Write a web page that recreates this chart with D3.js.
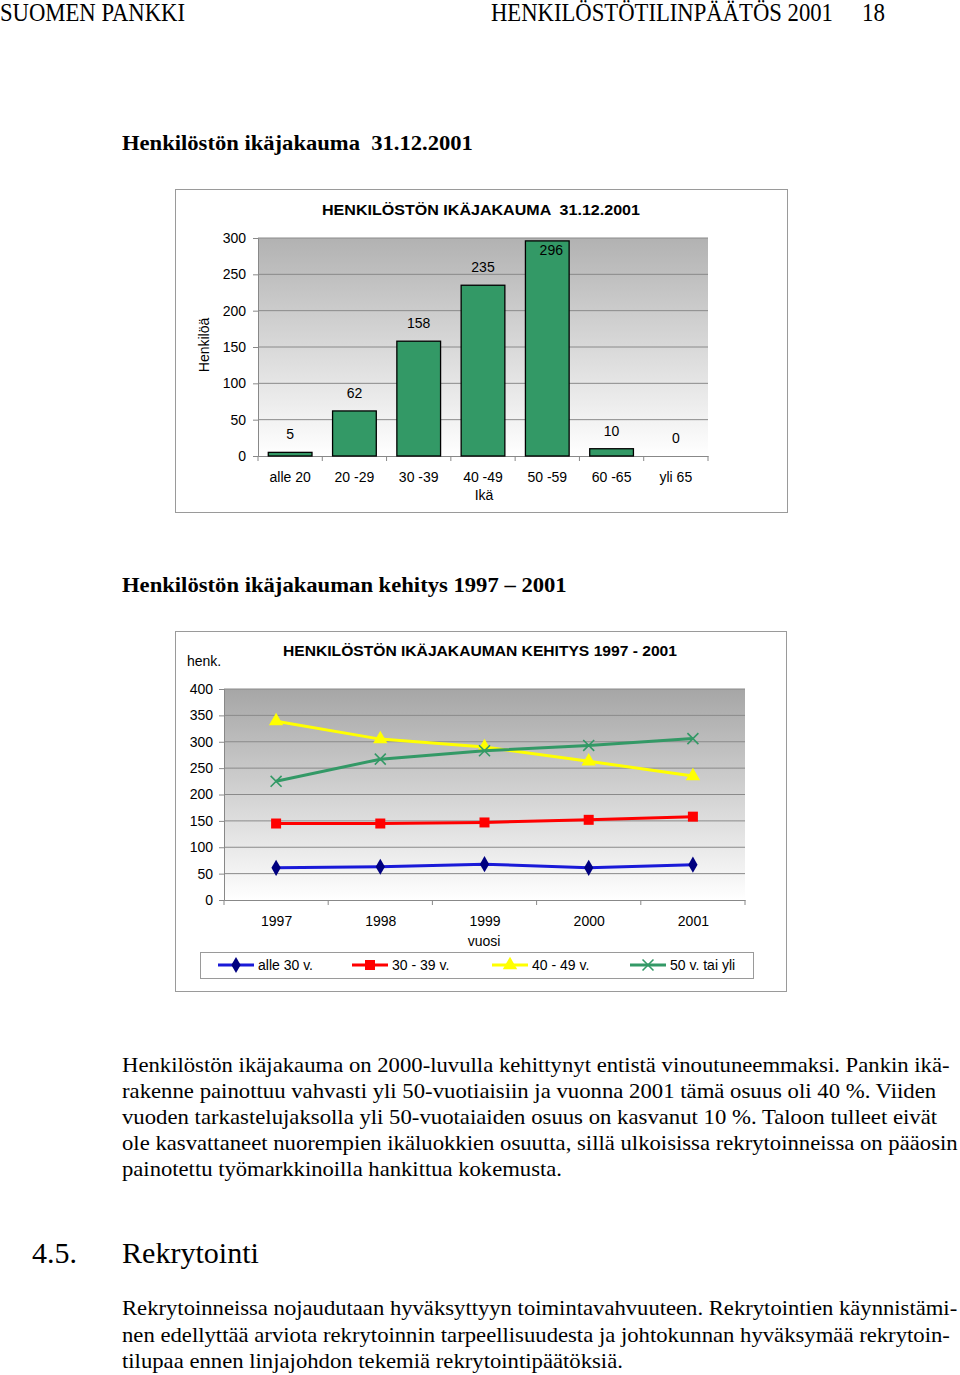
<!DOCTYPE html>
<html>
<head>
<meta charset="utf-8">
<script src="https://cdn.jsdelivr.net/npm/d3@7"></script>
<style>
body { margin: 0; background: #fff; }
text { white-space: pre; }
</style>
</head>
<body>
<script>
// Chart 1 data
var ageGroups = ["alle 20", "20 -29", "30 -39", "40 -49", "50 -59", "60 -65", "yli 65"];
var ageCounts = [5, 62, 158, 235, 296, 10, 0];
var ageTicks = [0, 50, 100, 150, 200, 250, 300];

// Chart 2 data
var years = ["1997", "1998", "1999", "2000", "2001"];
var seriesNames = ["alle 30 v.", "30 - 39 v.", "40 - 49 v.", "50 v. tai yli"];
var under30 = [61, 63, 68, 61, 67];
var age30to39 = [145, 145, 147, 152, 158];
var age40to49 = [339, 305, 290, 263, 235];
var over50 = [225, 267, 283, 293, 306];
var trendTicks = [0, 50, 100, 150, 200, 250, 300, 350, 400];

// page text
var para1 = [
  "Henkilöstön ikäjakauma on 2000-luvulla kehittynyt entistä vinoutuneemmaksi. Pankin ikä-",
  "rakenne painottuu vahvasti yli 50-vuotiaisiin ja vuonna 2001 tämä osuus oli 40 %. Viiden",
  "vuoden tarkastelujaksolla yli 50-vuotaiaiden osuus on kasvanut 10 %. Taloon tulleet eivät",
  "ole kasvattaneet nuorempien ikäluokkien osuutta, sillä ulkoisissa rekrytoinneissa on pääosin",
  "painotettu työmarkkinoilla hankittua kokemusta."
];
var para2 = [
  "Rekrytoinneissa nojaudutaan hyväksyttyyn toimintavahvuuteen. Rekrytointien käynnistämi-",
  "nen edellyttää arviota rekrytoinnin tarpeellisuudesta ja johtokunnan hyväksymää rekrytoin-",
  "tilupaa ennen linjajohdon tekemiä rekrytointipäätöksiä."
];

var serif = "'Liberation Serif', 'Times New Roman', serif";
var sans = "'Liberation Sans', Arial, sans-serif";

var svg = d3.select("body").append("svg")
  .attr("width", 960)
  .attr("height", 1375);

var defs = svg.append("defs");
function grad(id, top) {
  var g = defs.append("linearGradient").attr("id", id)
    .attr("x1", 0).attr("y1", 0).attr("x2", 0).attr("y2", 1);
  g.append("stop").attr("offset", "0%").attr("stop-color", top);
  g.append("stop").attr("offset", "100%").attr("stop-color", "#ffffff");
}
grad("bg1", "#b2b2b2");
grad("bg2", "#a6a6a6");

// squeeze a text to a given width with a horizontal scale
function fitWidth(t, x, y, len) {
  var w = t.node().getComputedTextLength();
  t.attr("x", 0).attr("y", 0)
    .attr("transform", "translate(" + x + "," + y + ") scale(" + (len / w) + ",1)");
}

function serifText(x, y, txt, size, len, weight) {
  var t = svg.append("text")
    .attr("x", x).attr("y", y)
    .attr("font-family", serif)
    .attr("font-size", size)
    .attr("fill", "#000")
    .text(txt);
  if (weight) t.attr("font-weight", weight);
  if (len) fitWidth(t, x, y, len);
  return t;
}

// page header
serifText(0, 21, "SUOMEN PANKKI", 25, 185);
serifText(491, 21, "HENKILÖSTÖTILINPÄÄTÖS 2001", 25, 342);
serifText(862, 21, "18", 25, 23);

serifText(122, 150, "Henkilöstön ikäjakauma  31.12.2001", 22, 351, "bold");
serifText(122, 592, "Henkilöstön ikäjakauman kehitys 1997 – 2001", 22, 445, "bold");

// ---------- Chart 1: bar chart ----------
svg.append("rect")
  .attr("x", 175.5).attr("y", 189.5).attr("width", 612).attr("height", 323)
  .attr("fill", "#fff").attr("stroke", "#9a9a9a");

var x1 = d3.scaleBand().domain(ageGroups).range([258, 708])
  .paddingInner(0.32).paddingOuter(0.16);
var y1 = d3.scaleLinear().domain([0, 300]).range([456, 238]);

svg.append("rect")
  .attr("x", 258).attr("y", y1(300)).attr("width", 450).attr("height", y1(0) - y1(300))
  .attr("fill", "url(#bg1)");

svg.append("g").selectAll("line")
  .data(ageTicks.slice(1))
  .enter().append("line")
  .attr("x1", 258).attr("x2", 708)
  .attr("y1", function(d) { return y1(d); })
  .attr("y2", function(d) { return y1(d); })
  .attr("stroke", "#8a8a8a").attr("stroke-width", 1);

var yAxis1 = svg.append("g")
  .attr("transform", "translate(258,0)")
  .call(d3.axisLeft(y1).tickValues(ageTicks).tickSize(5).tickPadding(7));
yAxis1.selectAll("text").attr("font-family", sans).attr("font-size", 14).attr("fill", "#000");
yAxis1.selectAll("line, path").attr("stroke", "#888");

var xAxis1 = svg.append("g")
  .attr("transform", "translate(0," + y1(0) + ")")
  .call(d3.axisBottom(x1).tickSize(0).tickPadding(16));
xAxis1.selectAll("text").attr("font-family", sans).attr("font-size", 14).attr("fill", "#000");
xAxis1.select("path").attr("stroke", "#888");
// tick marks between categories
xAxis1.selectAll(".sep")
  .data(d3.range(ageGroups.length + 1))
  .enter().append("line")
  .attr("x1", function(i) { return 258 + i * x1.step(); })
  .attr("x2", function(i) { return 258 + i * x1.step(); })
  .attr("y1", 0).attr("y2", 5)
  .attr("stroke", "#888");

svg.append("g").selectAll("rect")
  .data(ageCounts)
  .enter().append("rect")
  .attr("x", function(d, i) { return x1(ageGroups[i]); })
  .attr("y", function(d) { return y1(d); })
  .attr("width", x1.bandwidth())
  .attr("height", function(d) { return y1(0) - y1(d); })
  .attr("fill", "#339966")
  .attr("stroke", "#000").attr("stroke-width", 1.3)
  .attr("display", function(d) { return d > 0 ? null : "none"; });

svg.append("g").selectAll("text")
  .data(ageCounts)
  .enter().append("text")
  .attr("x", function(d, i) { return x1(ageGroups[i]) + x1.bandwidth() / 2 + (y1(d) - 13 < y1(300) + 17 ? 4 : 0); })
  .attr("y", function(d) { return Math.max(y1(d) - 13, y1(300) + 17); })
  .attr("text-anchor", "middle")
  .attr("font-family", sans).attr("font-size", 14)
  .text(function(d) { return d; });

svg.append("text")
  .attr("x", 481).attr("y", 215)
  .attr("text-anchor", "middle")
  .attr("font-family", sans).attr("font-size", 15).attr("font-weight", "bold")
  .attr("textLength", 318).attr("lengthAdjust", "spacingAndGlyphs")
  .text("HENKILÖSTÖN IKÄJAKAUMA  31.12.2001");

svg.append("text")
  .attr("transform", "translate(209,345) rotate(-90)")
  .attr("text-anchor", "middle")
  .attr("font-family", sans).attr("font-size", 14)
  .text("Henkilöä");

svg.append("text")
  .attr("x", 484).attr("y", 500)
  .attr("text-anchor", "middle")
  .attr("font-family", sans).attr("font-size", 14)
  .text("Ikä");

// ---------- Chart 2: line chart ----------
svg.append("rect")
  .attr("x", 175.5).attr("y", 631.5).attr("width", 611).attr("height", 360)
  .attr("fill", "#fff").attr("stroke", "#9a9a9a");

var x2 = d3.scalePoint().domain(years).range([224, 745]).padding(0.5);
var y2 = d3.scaleLinear().domain([0, 400]).range([900, 689]);

svg.append("rect")
  .attr("x", 224).attr("y", y2(400)).attr("width", 521).attr("height", y2(0) - y2(400))
  .attr("fill", "url(#bg2)");

svg.append("g").selectAll("line")
  .data(trendTicks.slice(1))
  .enter().append("line")
  .attr("x1", 224).attr("x2", 745)
  .attr("y1", function(d) { return y2(d); })
  .attr("y2", function(d) { return y2(d); })
  .attr("stroke", "#8a8a8a").attr("stroke-width", 1);

var yAxis2 = svg.append("g")
  .attr("transform", "translate(224,0)")
  .call(d3.axisLeft(y2).tickValues(trendTicks).tickSize(5).tickPadding(6));
yAxis2.selectAll("text").attr("font-family", sans).attr("font-size", 14).attr("fill", "#000");
yAxis2.selectAll("line, path").attr("stroke", "#888");

var xAxis2 = svg.append("g")
  .attr("transform", "translate(0," + y2(0) + ")")
  .call(d3.axisBottom(x2).tickSize(0).tickPadding(16));
xAxis2.selectAll("text").attr("font-family", sans).attr("font-size", 14).attr("fill", "#000");
xAxis2.select("path").attr("stroke", "#888");
xAxis2.selectAll(".sep")
  .data(d3.range(years.length + 1))
  .enter().append("line")
  .attr("x1", function(i) { return 224 + i * x2.step(); })
  .attr("x2", function(i) { return 224 + i * x2.step(); })
  .attr("y1", 0).attr("y2", 5)
  .attr("stroke", "#888");

var series = [
  { name: seriesNames[0], values: under30, line: "#1a1ad8", fill: "#000080", symbol: d3.symbolDiamond, size: 75 },
  { name: seriesNames[1], values: age30to39, line: "#ff0000", fill: "#ff0000", symbol: d3.symbolSquare, size: 100 },
  { name: seriesNames[2], values: age40to49, line: "#ffff00", fill: "#ffff00", symbol: d3.symbolTriangle, size: 90 },
  { name: seriesNames[3], values: over50, line: "#339966", fill: "none", symbol: d3.symbolX, size: 80 }
];

var line = d3.line()
  .x(function(d, i) { return x2(years[i]); })
  .y(function(d) { return y2(d); });

function marker(sel, s) {
  sel.attr("d", d3.symbol().type(s.symbol).size(s.size))
    .attr("fill", s.fill)
    .attr("stroke", s.fill === "none" ? s.line : "none")
    .attr("stroke-width", 1.6);
}

series.forEach(function(s) {
  var g = svg.append("g");
  g.append("path")
    .attr("d", line(s.values))
    .attr("fill", "none")
    .attr("stroke", s.line)
    .attr("stroke-width", 3);
  g.selectAll("path.m")
    .data(s.values)
    .enter().append("path")
    .attr("class", "m")
    .attr("transform", function(d, i) { return "translate(" + x2(years[i]) + "," + y2(d) + ")"; })
    .call(marker, s);
});

svg.append("text")
  .attr("x", 480).attr("y", 656)
  .attr("text-anchor", "middle")
  .attr("font-family", sans).attr("font-size", 15).attr("font-weight", "bold")
  .attr("textLength", 394).attr("lengthAdjust", "spacingAndGlyphs")
  .text("HENKILÖSTÖN IKÄJAKAUMAN KEHITYS 1997 - 2001");

svg.append("text")
  .attr("x", 187).attr("y", 666)
  .attr("font-family", sans).attr("font-size", 14)
  .text("henk.");

svg.append("text")
  .attr("x", 484).attr("y", 946)
  .attr("text-anchor", "middle")
  .attr("font-family", sans).attr("font-size", 14)
  .text("vuosi");

// legend
svg.append("rect")
  .attr("x", 200.5).attr("y", 952.5).attr("width", 553).attr("height", 26)
  .attr("fill", "#fff").attr("stroke", "#9a9a9a");

var legendX = [218, 352, 492, 630];
var leg = svg.append("g").selectAll("g")
  .data(series)
  .enter().append("g")
  .attr("transform", function(d, i) { return "translate(" + legendX[i] + ",965)"; });
leg.append("line")
  .attr("x1", 0).attr("x2", 36)
  .attr("stroke", function(d) { return d.line; })
  .attr("stroke-width", 3);
leg.append("path")
  .attr("transform", "translate(18,0)")
  .each(function(d) { d3.select(this).call(marker, d); });
leg.append("text")
  .attr("x", 40).attr("y", 5)
  .attr("font-family", sans).attr("font-size", 14)
  .text(function(d) { return d.name; });

// ---------- body text ----------
var para1Len = [828, 815, 816, 836, 440];
para1.forEach(function(txt, i) {
  serifText(122, 1072 + i * 26, txt, 21, para1Len[i]);
});

serifText(32, 1263, "4.5.", 29, 45);
serifText(122, 1263, "Rekrytointi", 29, 137);

var para2Len = [836, 828, 501];
para2.forEach(function(txt, i) {
  serifText(122, 1315 + i * 26.5, txt, 21, para2Len[i]);
});
</script>
</body>
</html>
